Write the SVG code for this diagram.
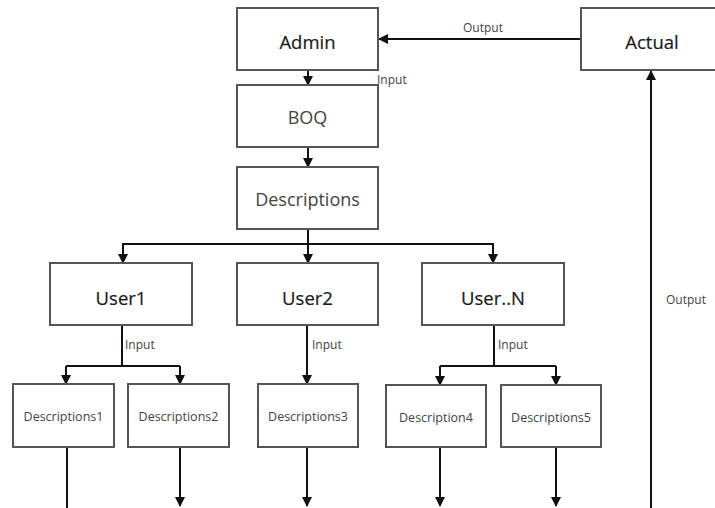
<svg xmlns="http://www.w3.org/2000/svg" width="715" height="508" viewBox="0 0 715 508">
<defs>
<marker id="ah" markerWidth="10" markerHeight="10" refX="9" refY="5" orient="auto" markerUnits="userSpaceOnUse">
<path d="M0,0 L10,5 L0,10 Z" fill="#111"/>
</marker>
<style>
.box{fill:#fff;stroke:#555;stroke-width:2}
.t{font-family:"Open Sans","Noto Sans",sans-serif;text-anchor:middle;dominant-baseline:central}
.big{font-size:18.5px;fill:#1a1a1a;stroke:#1a1a1a;stroke-width:0.2}
.mid{font-size:18px;fill:#444}
.sm{font-size:12.5px;fill:#444}
.lab{font-family:"Open Sans","Noto Sans",sans-serif;font-size:12px;fill:#444}
.c{stroke:#111;stroke-width:2;fill:none}
.ca{stroke:#111;stroke-width:2;fill:none;marker-end:url(#ah)}
</style>
</defs>
<rect width="715" height="508" fill="#fff"/>
<g id="connectors">
<line class="ca" x1="581" y1="39" x2="379" y2="39"/>
<line class="ca" x1="308" y1="70" x2="308" y2="85"/>
<line class="ca" x1="308" y1="147" x2="308" y2="167"/>
<line class="c" x1="308" y1="229" x2="308" y2="244"/>
<polyline class="c" points="123,262 123,244 493,244 493,262"/>
<line class="ca" x1="123" y1="244" x2="123" y2="263"/>
<line class="ca" x1="308" y1="244" x2="308" y2="263"/>
<line class="ca" x1="493" y1="244" x2="493" y2="263"/>
<line class="c" x1="122" y1="325" x2="122" y2="366"/>
<polyline class="c" points="66,366 180,366"/>
<line class="ca" x1="66" y1="366" x2="66" y2="384"/>
<line class="ca" x1="180" y1="366" x2="180" y2="384"/>
<line class="ca" x1="307" y1="325" x2="307" y2="384"/>
<line class="c" x1="494" y1="325" x2="494" y2="366"/>
<polyline class="c" points="440,366 556,366"/>
<line class="ca" x1="440" y1="366" x2="440" y2="385"/>
<line class="ca" x1="556" y1="366" x2="556" y2="385"/>
<line class="c" x1="67" y1="448" x2="67" y2="508"/>
<line class="ca" x1="180" y1="447" x2="180" y2="506"/>
<line class="ca" x1="307" y1="447" x2="307" y2="506"/>
<line class="ca" x1="440" y1="447" x2="440" y2="506"/>
<line class="ca" x1="556" y1="447" x2="556" y2="506"/>
<line class="ca" x1="651" y1="508" x2="651" y2="71"/>
<text class="lab" x="463" y="32">Output</text>
<text class="lab" x="377" y="84">Input</text>
<text class="lab" x="666" y="304">Output</text>
<text class="lab" x="125" y="349">Input</text>
<text class="lab" x="312" y="349">Input</text>
<text class="lab" x="498" y="349">Input</text>
</g>
<g id="admin"><rect class="box" x="237" y="8" width="141" height="62"/><text class="t big" x="307.5" y="41">Admin</text></g>
<g id="actual"><rect class="box" x="581" y="8" width="142" height="62"/><text class="t big" x="652" y="41">Actual</text></g>
<g id="boq"><rect class="box" x="237" y="85" width="141" height="62"/><text class="t mid" x="307.5" y="117">BOQ</text></g>
<g id="descriptions"><rect class="box" x="237" y="167" width="141" height="62"/><text class="t mid" x="307.5" y="199">Descriptions</text></g>
<g id="user1"><rect class="box" x="50" y="263" width="142" height="62"/><text class="t big" x="121" y="297">User1</text></g>
<g id="user2"><rect class="box" x="237" y="263" width="141" height="62"/><text class="t big" x="307.5" y="297">User2</text></g>
<g id="userN"><rect class="box" x="422" y="263" width="142" height="62"/><text class="t big" x="493" y="297">User..N</text></g>
<g id="desc1"><rect class="box" x="13" y="384" width="101" height="63"/><text class="t sm" x="63.5" y="416">Descriptions1</text></g>
<g id="desc2"><rect class="box" x="128" y="384" width="101" height="63"/><text class="t sm" x="178.5" y="416">Descriptions2</text></g>
<g id="desc3"><rect class="box" x="258" y="384" width="100" height="63"/><text class="t sm" x="308" y="416">Descriptions3</text></g>
<g id="desc4"><rect class="box" x="386" y="385" width="100" height="62"/><text class="t sm" x="436" y="417">Description4</text></g>
<g id="desc5"><rect class="box" x="501" y="385" width="100" height="62"/><text class="t sm" x="551" y="417">Descriptions5</text></g>
</svg>
